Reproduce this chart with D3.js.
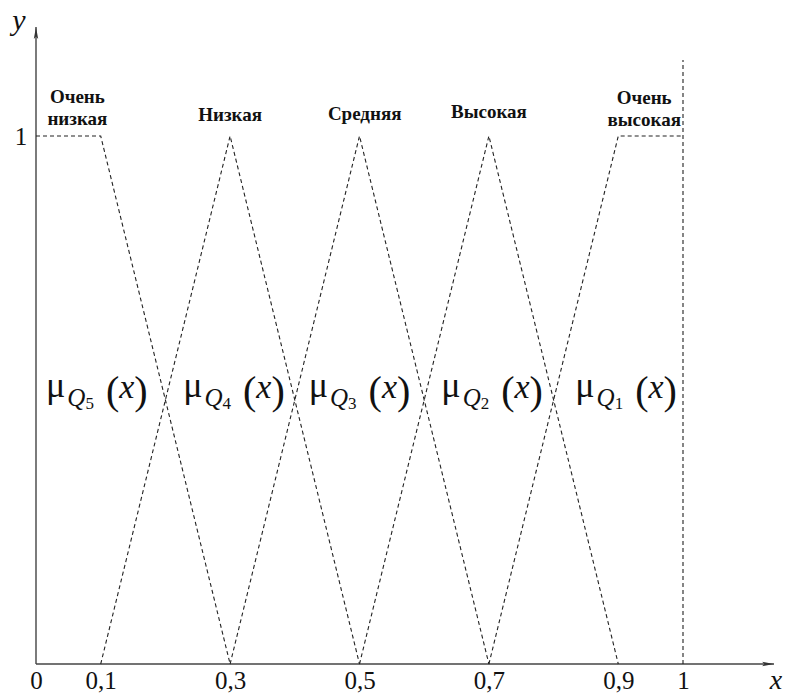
<!DOCTYPE html>
<html>
<head>
<meta charset="utf-8">
<script src="https://cdn.jsdelivr.net/npm/d3@7"></script>
<style>
  html, body { margin: 0; padding: 0; background: #fff; }
  svg { display: block; }
  svg text { font-family: "Liberation Serif", "Times New Roman", Times, serif; fill: #111; }
</style>
</head>
<body>
<svg id="chart" width="786" height="695"></svg>
<script>
// Membership functions of the five terms (x, μ)
const termNames = ["Очень низкая", "Низкая", "Средняя", "Высокая", "Очень высокая"];
const q5 = [[0, 1], [0.1, 1], [0.3, 0]];
const q4 = [[0.1, 0], [0.3, 1], [0.5, 0]];
const q3 = [[0.3, 0], [0.5, 1], [0.7, 0]];
const q2 = [[0.5, 0], [0.7, 1], [0.9, 0]];
const q1 = [[0.7, 0], [0.9, 1], [1, 1]];
const boundary = [[1, 0], [1, 1.144]];
const muIndex = [5, 4, 3, 2, 1];
const muAt = [0.094, 0.306, 0.5, 0.705, 0.912];
const nameAt = [0.064, 0.3, 0.508, 0.7, 0.94];
const xTickValues = [0, 0.1, 0.3, 0.5, 0.7, 0.9, 1];
const xTickLabels = ["0", "0,1", "0,3", "0,5", "0,7", "0,9", "1"];
const yTickValues = [1];
const yTickLabels = ["1"];

const svg = d3.select("#chart");
const x = d3.scaleLinear().domain([0, 1]).range([36, 683]);
const y = d3.scaleLinear().domain([0, 1]).range([664, 136]);

const line = d3.line().x(d => x(d[0])).y(d => y(d[1]));

// arrow heads for both axes
const defs = svg.append("defs");
defs.append("marker")
  .attr("id", "arrow").attr("viewBox", "0 0 12 6")
  .attr("refX", 12).attr("refY", 3)
  .attr("markerWidth", 12).attr("markerHeight", 6)
  .attr("markerUnits", "userSpaceOnUse")
  .attr("orient", "auto")
  .append("path").attr("d", "M0,0.8 L12,3 L0,5.2 L2.5,3 Z").attr("fill", "#333");

// axes
svg.append("line")
  .attr("x1", x(0)).attr("y1", y(0)).attr("x2", 774).attr("y2", y(0))
  .attr("stroke", "#444").attr("stroke-width", 1.4)
  .attr("marker-end", "url(#arrow)");
svg.append("line")
  .attr("x1", x(0)).attr("y1", y(0)).attr("x2", x(0)).attr("y2", 27)
  .attr("stroke", "#444").attr("stroke-width", 1.4)
  .attr("marker-end", "url(#arrow)");

// tick labels
const xAxis = d3.axisBottom(x).tickValues(xTickValues)
  .tickFormat((d, i) => xTickLabels[i]).tickSize(0).tickPadding(0);
const gx = svg.append("g").attr("transform", `translate(0,${y(0)})`).call(xAxis);
gx.attr("font-family", null);
gx.select(".domain").remove();
gx.selectAll("text")
  .attr("y", 25).attr("dy", null)
  .style("font-size", "25px").attr("fill", "#111");

const yAxis = d3.axisLeft(y).tickValues(yTickValues)
  .tickFormat((d, i) => yTickLabels[i]).tickSize(0).tickPadding(0);
const gy = svg.append("g").attr("transform", `translate(${x(0)},0)`).call(yAxis);
gy.attr("font-family", null);
gy.select(".domain").remove();
gy.selectAll("text")
  .attr("x", -15).attr("dy", "0.33em").attr("text-anchor", "middle")
  .style("font-size", "25px").attr("fill", "#111");

// axis names
svg.append("text").attr("x", 19).attr("y", 30).attr("text-anchor", "middle")
  .style("font-size", "30px").style("font-style", "italic").text("y");
svg.append("text").attr("x", 776).attr("y", 689).attr("text-anchor", "middle")
  .style("font-size", "28px").style("font-style", "italic").text("x");

// membership functions, dashed
const dash = "4,3";
[q5, q4, q3, q2, q1, boundary].forEach(s => {
  svg.append("path").datum(s).attr("d", line)
    .attr("fill", "none").attr("stroke", "#222")
    .attr("stroke-width", 1.1).attr("stroke-dasharray", dash);
});

// term names above the peaks
const nameLines = [["Очень", "низкая"], ["Низкая"], ["Средняя"], ["Высокая"], ["Очень", "высокая"]];
const nameBase = [[103, 125], [121], [120], [118], [104, 126]];
termNames.forEach((n, i) => {
  const t = svg.append("text").attr("text-anchor", "middle")
    .style("font-size", "19px").style("font-weight", "bold");
  nameLines[i].forEach((w, j) => {
    t.append("tspan").attr("x", x(nameAt[i])).attr("y", nameBase[i][j]).text(w);
  });
});

// μ_Q labels
muIndex.forEach((k, i) => {
  const t = svg.append("text").attr("x", x(muAt[i])).attr("y", 397)
    .attr("text-anchor", "middle");
  t.append("tspan").style("font-size", "36px").text("μ");
  t.append("tspan").attr("dy", 9).attr("dx", 2).style("font-size", "25px").style("font-style", "italic").text("Q");
  t.append("tspan").attr("dy", 3).style("font-size", "17px").text(k);
  t.append("tspan").attr("dy", -5).attr("dx", 12).style("font-size", "40px").text("(");
  t.append("tspan").attr("dy", -6).style("font-size", "34px").style("font-style", "italic").text("x");
  t.append("tspan").attr("dy", 6).style("font-size", "40px").text(")");
});
</script>
</body>
</html>
